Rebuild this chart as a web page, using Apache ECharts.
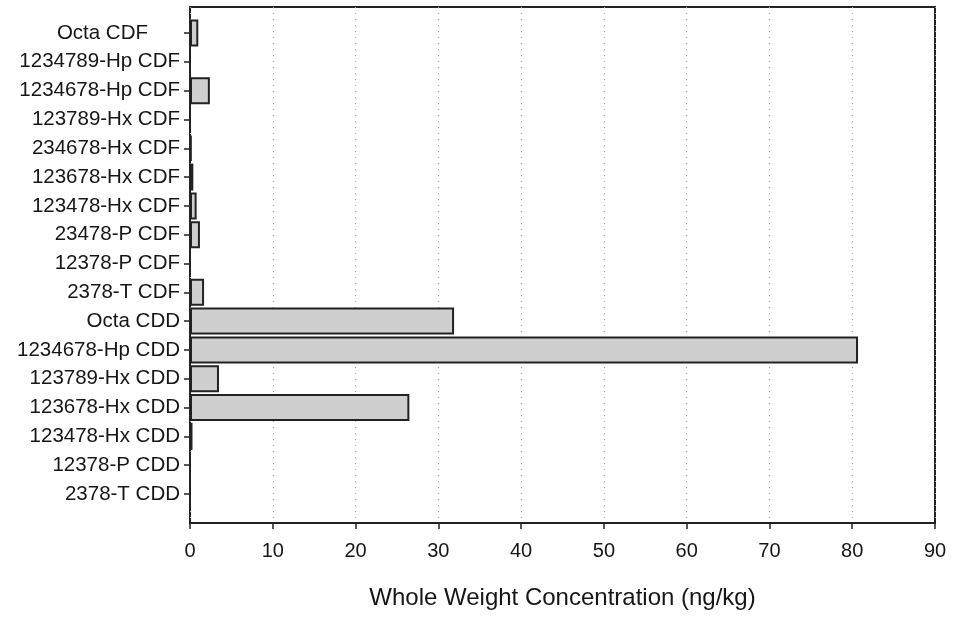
<!DOCTYPE html>
<html>
<head>
<meta charset="utf-8">
<script src="https://cdn.jsdelivr.net/npm/echarts@6/dist/echarts.min.js"></script>
<style>
  html, body { margin: 0; padding: 0; background: #fff; }
  #chart { width: 953px; height: 618px; }
</style>
</head>
<body>
<div id="chart"></div>
<script>
// Congener names, listed bottom to top
const categories = [
  '2378-T CDD', '12378-P CDD', '123478-Hx CDD', '123678-Hx CDD', '123789-Hx CDD',
  '1234678-Hp CDD', 'Octa CDD', '2378-T CDF', '12378-P CDF', '23478-P CDF',
  '123478-Hx CDF', '123678-Hx CDF', '234678-Hx CDF', '123789-Hx CDF',
  '1234678-Hp CDF', '1234789-Hp CDF', 'Octa CDF'
];
// Whole weight concentration, ng/kg
const concentrations = [
  0, 0, 0.3, 26.5, 3.5,
  80.7, 31.9, 1.7, 0, 1.2,
  0.8, 0.4, 0.2, 0,
  2.4, 0, 1.0
];
const xTicks = { min: 0, max: 90, interval: 10 };
const xTitle = 'Whole Weight Concentration (ng/kg)';

const FONT = "'Liberation Sans', Arial, sans-serif";
const INK = '#161616';

const chart = echarts.init(document.getElementById('chart'), null, { renderer: 'canvas' });

chart.setOption({
  backgroundColor: '#ffffff',
  animation: false,
  grid: [
    // bars
    { left: 190, right: 18, top: 18.6, bottom: 109.6, containLabel: false },
    // framed plot area with the value axis
    { left: 190, right: 18, top: 7, bottom: 95, containLabel: false,
      show: true, borderColor: '#222', borderWidth: 2, backgroundColor: 'transparent' }
  ],
  xAxis: [
    { gridIndex: 0, type: 'value', min: xTicks.min, max: xTicks.max, interval: xTicks.interval, show: false },
    {
      gridIndex: 1, type: 'value', min: xTicks.min, max: xTicks.max, interval: xTicks.interval,
      position: 'bottom',
      name: xTitle, nameLocation: 'middle', nameGap: 63,
      nameTextStyle: { fontFamily: FONT, fontSize: 24, color: INK },
      axisLine: { show: true, lineStyle: { color: '#222', width: 2 } },
      axisTick: { show: true, length: 6, inside: false, lineStyle: { color: '#222', width: 1.5 } },
      axisLabel: { fontFamily: FONT, fontSize: 20, color: INK, margin: 18 },
      splitLine: { show: true, lineStyle: { color: '#a8a8a8', type: [1, 5], width: 1.2 } }
    }
  ],
  yAxis: [
    {
      gridIndex: 0, type: 'category', data: categories,
      axisLine: { show: false },
      axisTick: { show: true, alignWithLabel: true, length: 6, lineStyle: { color: '#222', width: 1.5 } },
      axisLabel: {
        fontFamily: FONT, fontSize: 20.5, color: INK, margin: 10,
        formatter: function (v) { return v === 'Octa CDF' ? '{o|' + v + '}' : v; },
        rich: { o: { fontFamily: FONT, fontSize: 20.5, color: INK, padding: [0, 32, 0, 0] } }
      },
      splitLine: { show: false }
    },
    { gridIndex: 1, type: 'value', min: 0, max: 1, show: false }
  ],
  series: [
    {
      type: 'bar',
      xAxisIndex: 0, yAxisIndex: 0,
      data: concentrations,
      barWidth: 27,
      itemStyle: { color: '#cfcfcf', borderColor: '#222', borderWidth: 2 },
      z: 3
    }
  ]
});
</script>
</body>
</html>
